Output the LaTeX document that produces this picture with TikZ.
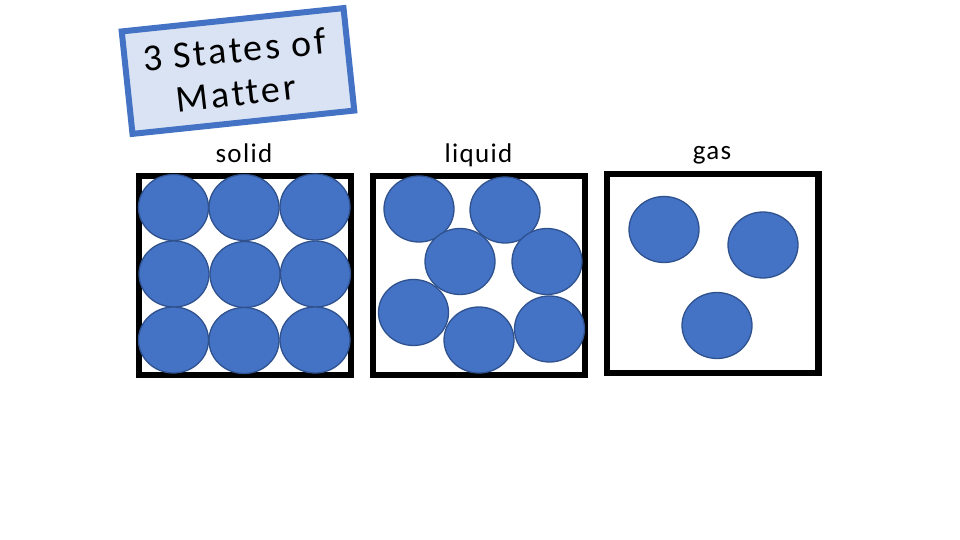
\documentclass[tikz,border=0pt]{standalone}
\usepackage{fontspec}
\setmainfont{Carlito}
\newfontfamily\titlefont[LetterSpace=7,Ligatures=NoCommon]{Carlito}
\newfontfamily\labelfont[LetterSpace=5,Ligatures=NoCommon]{Carlito}
\usetikzlibrary{shapes.geometric}
\definecolor{pblue}{HTML}{4472C4}
\definecolor{pdark}{HTML}{2F528F}
\definecolor{plight}{HTML}{DAE3F3}
\begin{document}
\begin{tikzpicture}[x=1pt,y=-1pt,
  container/.style={draw=black,line width=6.5pt,fill=none,rectangle,inner sep=0pt,minimum width=212pt,minimum height=199pt},
  particle/.style={ellipse,draw=pdark,line width=1.3pt,fill=pblue,inner sep=0pt,minimum width=70pt,minimum height=66pt},
  label/.style={font=\labelfont\fontsize{27}{30}\selectfont,anchor=base,inner sep=0pt},
  titlebox/.style={rectangle,draw=pblue,fill=plight,line width=6pt,inner sep=0pt,minimum width=223pt,minimum height=103pt,rotate=6},
  titletext/.style={font=\titlefont\fontsize{38}{44}\selectfont,anchor=base,inner sep=0pt}
]
\useasboundingbox (0,0) rectangle (960,540);
\fill[white] (0,0) rectangle (960,540);
% title
\node[titlebox] (tbox) at (238,71) {};
\node[titletext,rotate=5.5] (ttext1) at (235.5,62.5) {3 States of};
\node[titletext,rotate=6.5] (ttext2) at (237.5,106) {Matter};
% labels
\node[label] (lsolid) at (244,163) {solid};
\node[label] (lliquid) at (478.5,163) {liquid};
\node[label] (lgas) at (712,160) {gas};
% boxes
\node[container] (solidbox) at (245,275.5) {};
\node[container] (liquidbox) at (479,275.5) {};
\node[container,minimum width=211.5pt] (gasbox) at (712.75,273.5) {};
% solid particles
\node[particle] (s11) at (173.5,207.5) {};
\node[particle] (s12) at (244,207.5) {};
\node[particle] (s13) at (315,207) {};
\node[particle] (s21) at (174,274) {};
\node[particle] (s22) at (245,274.5) {};
\node[particle] (s23) at (315.5,274) {};
\node[particle] (s31) at (173.5,340) {};
\node[particle] (s32) at (244,340.5) {};
\node[particle] (s33) at (315,340) {};
% liquid particles
\node[particle] (l1) at (419,209) {};
\node[particle] (l2) at (505,210) {};
\node[particle] (l3) at (460,261.5) {};
\node[particle] (l4) at (547,261.5) {};
\node[particle] (l5) at (413.5,312.5) {};
\node[particle] (l6) at (479,340) {};
\node[particle] (l7) at (549.5,329) {};
% gas particles
\node[particle] (g1) at (664,229.5) {};
\node[particle] (g2) at (763,245) {};
\node[particle] (g3) at (717,325.5) {};
\end{tikzpicture}
\end{document}
